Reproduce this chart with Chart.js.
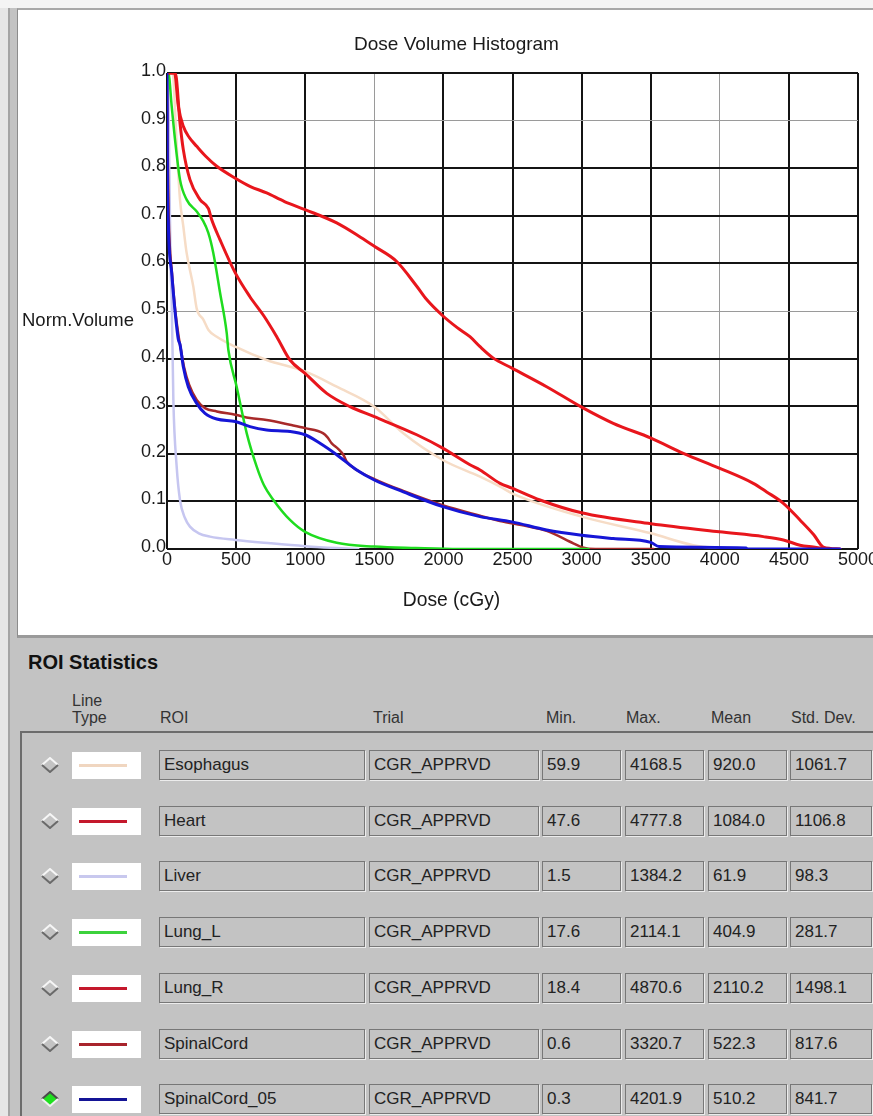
<!DOCTYPE html>
<html>
<head>
<meta charset="utf-8">
<title>Dose Volume Histogram</title>
<script src="https://cdn.jsdelivr.net/npm/chart.js@4"></script>
<style>
  html, body { margin: 0; padding: 0; }
  body {
    width: 873px; height: 1116px; overflow: hidden; position: relative;
    background: #c3c3c3;
    font-family: "Liberation Sans", Arial, sans-serif; color: #222;
  }
  .abs { position: absolute; }
  #edge { left: 0; top: 0; width: 8px; height: 1116px; background: #e6e6e6; }
  #edgeLine { left: 8px; top: 0; width: 2px; height: 1116px; background: #a4a4a4; }
  #topEdge { left: 0; top: 0; width: 873px; height: 8px; background: #f4f4f4; }
  #panel {
    left: 17px; top: 8px; width: 880px; height: 630px;
    background: #fff; border-top: 2px solid #a8a8a8; border-left: 1px solid #8c8c8c;
    border-bottom: 3px solid #9a9a9a; box-sizing: border-box;
  }
  #dvh { position: absolute; left: 0; top: 0; }
  #statsTitle { left: 28px; top: 651px; font-size: 20px; font-weight: bold; color: #111; }
  .hdr { font-size: 16px; color: #333; line-height: 17px; }
  #hdrLine { left: 20px; top: 731px; width: 853px; height: 2px; background: #6c6c6c; }
  #leftLine { left: 20px; top: 731px; width: 2px; height: 385px; background: #6c6c6c; }
  .field {
    box-sizing: border-box; height: 30px; border: 1px solid #777;
    box-shadow: 1px 1px 0 #ececec; font-size: 17px; color: #222;
    line-height: 28px; padding-left: 4px; white-space: nowrap; overflow: hidden;
  }
  .swatch { box-sizing: border-box; background: #fff; width: 69px; height: 27px; }
  .swatch div { position: absolute; left: 7px; top: 12px; width: 48px; height: 3px; }
</style>
</head>
<body>
<div id="edge" class="abs"></div>
<div id="edgeLine" class="abs"></div>
<div id="topEdge" class="abs"></div>
<div id="panel" class="abs"><canvas id="dvh" width="876" height="626"></canvas></div>
<div id="statsTitle" class="abs">ROI Statistics</div>
<div class="abs hdr" style="left:72px; top:692px;">Line<br>Type</div>
<div class="abs hdr" style="left:160px; top:709px;">ROI</div>
<div class="abs hdr" style="left:373px; top:709px;">Trial</div>
<div class="abs hdr" style="left:546px; top:709px;">Min.</div>
<div class="abs hdr" style="left:626px; top:709px;">Max.</div>
<div class="abs hdr" style="left:711px; top:709px;">Mean</div>
<div class="abs hdr" style="left:791px; top:709px;">Std. Dev.</div>
<div id="hdrLine" class="abs"></div>
<div id="leftLine" class="abs"></div>
<div id="rows"></div>

<script>
// ---- data ----
const chartTitle = 'Dose Volume Histogram';
const xTitle = 'Dose (cGy)';
const yTitle = 'Norm.Volume';
const doseTicks = [0, 500, 1000, 1500, 2000, 2500, 3000, 3500, 4000, 4500, 5000];
const volumeTicks = [0, 0.1, 0.2, 0.3, 0.4, 0.5, 0.6, 0.7, 0.8, 0.9, 1.0];

const roiNames = ['Esophagus', 'Heart', 'Liver', 'Lung_L', 'Lung_R', 'SpinalCord', 'SpinalCord_05'];
const trialNames = ['CGR_APPRVD', 'CGR_APPRVD', 'CGR_APPRVD', 'CGR_APPRVD', 'CGR_APPRVD', 'CGR_APPRVD', 'CGR_APPRVD'];
const minDose = [59.9, 47.6, 1.5, 17.6, 18.4, 0.6, 0.3];
const maxDose = [4168.5, 4777.8, 1384.2, 2114.1, 4870.6, 3320.7, 4201.9];
const meanDose = [920.0, 1084.0, 61.9, 404.9, 2110.2, 522.3, 510.2];
const stdDev = [1061.7, 1106.8, 98.3, 281.7, 1498.1, 817.6, 841.7];
const selectedRoi = 'SpinalCord_05';

// DVH curves: [dose cGy, normalised volume]
const esophagus = [[0,1.0],[40,1.0],[70,0.85],[94,0.734],[118,0.678],[142,0.622],[190,0.552],[215,0.505],[263,0.482],[300,0.46],[360,0.446],[494,0.425],[721,0.397],[999,0.373],[1228,0.341],[1500,0.299],[1710,0.243],[1995,0.187],[2265,0.152],[2410,0.131],[2496,0.117],[3000,0.068],[3502,0.033],[3808,0.008],[4000,0.002],[4168,0]];
const heart = [[0,1.0],[60,1.0],[94,0.895],[118,0.839],[166,0.776],[239,0.734],[300,0.715],[323,0.692],[383,0.65],[494,0.58],[600,0.53],[700,0.49],[794,0.446],[890,0.397],[999,0.369],[1156,0.327],[1324,0.299],[1500,0.278],[1807,0.24],[1995,0.212],[2192,0.177],[2265,0.166],[2410,0.138],[2496,0.128],[2699,0.103],[3000,0.076],[3502,0.053],[3996,0.036],[4315,0.026],[4460,0.019],[4580,0.008],[4677,0.004],[4780,0]];
const liver = [[0,1.0],[10,0.95],[17,0.79],[27,0.58],[34,0.524],[46,0.313],[70,0.173],[94,0.103],[130,0.065],[166,0.047],[230,0.033],[311,0.026],[494,0.019],[750,0.012],[999,0.006],[1228,0.002],[1384,0]];
const lungL = [[0,1.0],[10,1.0],[34,0.93],[58,0.86],[94,0.776],[142,0.734],[215,0.709],[260,0.69],[299,0.664],[335,0.622],[383,0.54],[432,0.454],[444,0.418],[504,0.341],[577,0.243],[649,0.173],[700,0.135],[770,0.103],[890,0.061],[999,0.036],[1228,0.013],[1500,0.005],[1800,0.002],[2114,0],[3050,0]];
const lungR = [[0,1.0],[55,1.0],[82,0.93],[118,0.888],[160,0.865],[215,0.846],[280,0.825],[360,0.804],[494,0.779],[600,0.762],[721,0.748],[850,0.73],[999,0.713],[1228,0.685],[1400,0.655],[1500,0.636],[1662,0.604],[1807,0.552],[1879,0.524],[1995,0.49],[2100,0.465],[2192,0.446],[2265,0.425],[2361,0.401],[2496,0.38],[2747,0.341],[3000,0.298],[3229,0.264],[3502,0.233],[3736,0.201],[3996,0.17],[4242,0.138],[4339,0.12],[4460,0.096],[4580,0.061],[4680,0.03],[4750,0.004],[4870,0]];
const spinalCord = [[0,1.0],[4,0.85],[12,0.7],[36,0.58],[60,0.5],[85,0.445],[100,0.42],[125,0.38],[160,0.345],[215,0.313],[275,0.296],[360,0.289],[494,0.282],[600,0.275],[721,0.271],[890,0.261],[999,0.254],[1131,0.243],[1160,0.235],[1192,0.222],[1240,0.21],[1276,0.198],[1300,0.184],[1373,0.166],[1500,0.147],[1710,0.122],[1995,0.092],[2265,0.07],[2410,0.059],[2600,0.048],[2747,0.038],[2940,0.012],[3000,0.004],[3100,0],[3520,0]];
const spinalCord05 = [[0,1.0],[2,0.825],[10,0.678],[34,0.58],[58,0.5],[82,0.44],[94,0.43],[118,0.383],[154,0.341],[215,0.306],[275,0.285],[360,0.273],[494,0.268],[600,0.257],[721,0.25],[890,0.247],[999,0.24],[1107,0.222],[1228,0.198],[1373,0.166],[1500,0.145],[1710,0.12],[1995,0.089],[2265,0.068],[2496,0.057],[2747,0.04],[3000,0.029],[3229,0.022],[3500,0.014],[3560,0.005],[4190,0.002],[4202,0],[4870,0]];

const curves = [esophagus, heart, liver, lungL, lungR, spinalCord, spinalCord05];

// ---- styles ----
const lineColors = ['#f6dcc6', '#e8161c', '#c6c6f0', '#1fdc1f', '#e8161c', '#a82a2a', '#1616d6'];
const swatchColors = ['#f0d6c0', '#c4182c', '#c8c8ee', '#3cd23c', '#c4182c', '#a8242c', '#141496'];
const lineWidths = [2.5, 3, 2.5, 2.5, 3, 2.5, 3];
const drawOrder = [4, 1, 5, 2, 1, 3, 0]; // lower is drawn on top
const FONT = '"Liberation Sans", Arial, sans-serif';

function isGrey(v, greys) {
    return greys.some(g => Math.abs(g - v) < 1e-6);
}

// axis titles sit where the original panel puts them, not centred on the plot
const axisTitles = {
    id: 'axisTitles',
    afterDraw(chart) {
        const ctx = chart.ctx;
        ctx.save();
        ctx.font = '18.5px ' + FONT;
        ctx.fillStyle = '#1a1a1a';
        ctx.textBaseline = 'alphabetic';
        ctx.textAlign = 'left';
        ctx.fillText(yTitle, 4, 316);
        ctx.font = '19.3px ' + FONT;
        ctx.textAlign = 'center';
        ctx.fillText(xTitle, 433.5, 596);
        ctx.restore();
    }
};

const datasets = roiNames.map((name, i) => ({
    label: name,
    data: curves[i].map(p => ({ x: p[0], y: p[1] })),
    borderColor: lineColors[i],
    backgroundColor: lineColors[i],
    borderWidth: lineWidths[i],
    pointRadius: 0,
    cubicInterpolationMode: 'monotone',
    borderJoinStyle: 'round',
    borderCapStyle: 'round',
    fill: false,
    order: drawOrder[i]
}));

new Chart(document.getElementById('dvh'), {
    type: 'line',
    data: { datasets },
    options: {
        responsive: false,
        devicePixelRatio: 1,
        animation: false,
        events: [],
        layout: { padding: { left: 37, right: 36, top: 0, bottom: 0 } },
        plugins: {
            legend: { display: false },
            tooltip: { enabled: false },
            title: {
                display: true,
                text: chartTitle,
                color: '#1a1a1a',
                font: { size: 19, weight: 'normal', family: FONT },
                padding: { top: 23, bottom: 17.2 }
            }
        },
        scales: {
            x: {
                type: 'linear',
                min: 0, max: 5000,
                afterBuildTicks: s => { s.ticks = doseTicks.map(v => ({ value: v })); },
                afterFit: s => { s.height = 87; s.paddingLeft = 0; s.paddingRight = 0; },
                border: { display: false },
                grid: {
                    drawTicks: false,
                    color: c => isGrey(c.tick.value, [1500, 4000]) ? '#9a9a9a' : '#141414',
                    lineWidth: c => isGrey(c.tick.value, [1500, 4000]) ? 1 : 2
                },
                ticks: {
                    padding: 0,
                    maxRotation: 0,
                    autoSkip: false,
                    color: '#1a1a1a',
                    font: { size: 18, family: FONT },
                    callback: v => String(v)
                }
            },
            y: {
                type: 'linear',
                min: 0, max: 1,
                afterBuildTicks: s => { s.ticks = volumeTicks.map(v => ({ value: v })); },
                afterFit: s => { s.width = 112; s.paddingTop = 0; s.paddingBottom = 0; },
                border: { display: false },
                grid: {
                    drawTicks: false,
                    color: c => isGrey(c.tick.value, [0.9, 0.5]) ? '#9a9a9a' : '#141414',
                    lineWidth: c => isGrey(c.tick.value, [0.9, 0.5]) ? 1 : 2
                },
                ticks: {
                    padding: 1,
                    labelOffset: -2,
                    autoSkip: false,
                    color: '#1a1a1a',
                    font: { size: 18, family: FONT },
                    callback: v => v.toFixed(1)
                }
            }
        }
    },
    plugins: [axisTitles]
});

// ---- ROI statistics table ----
function diamond(selected) {
    const fill = selected ? '#1fe01f' : '#c3c3c3';
    const hi = selected ? '#4a4a4a' : '#f6f6f6';
    const lo = selected ? '#f0f0f0' : '#6a6a6a';
    return '<svg width="18" height="16" viewBox="0 0 18 16">' +
        '<polygon points="9,1 17,8 9,15 1,8" fill="' + fill + '"/>' +
        '<polyline points="1,8 9,1 17,8" fill="none" stroke="' + hi + '" stroke-width="2"/>' +
        '<polyline points="1,8 9,15 17,8" fill="none" stroke="' + lo + '" stroke-width="2"/>' +
        '</svg>';
}

const rowsEl = document.getElementById('rows');
const fieldCols = [
    { left: 159, width: 206 },
    { left: 369, width: 170 },
    { left: 542, width: 79 },
    { left: 625, width: 79 },
    { left: 708, width: 79 },
    { left: 790, width: 82 }
];

roiNames.forEach((name, i) => {
    const top = Math.round(750 + i * 55.7);
    const values = [name, trialNames[i], minDose[i].toFixed(1), maxDose[i].toFixed(1),
                    meanDose[i].toFixed(1), stdDev[i].toFixed(1)];
    let html = '<div class="abs" style="left:41px; top:' + (top + 7) + 'px;">' + diamond(name === selectedRoi) + '</div>';
    html += '<div class="abs swatch" style="left:72px; top:' + (top + 2) + 'px;">' +
            '<div style="background:' + swatchColors[i] + ';"></div></div>';
    values.forEach((v, j) => {
        html += '<div class="abs field" style="left:' + fieldCols[j].left + 'px; top:' + top +
                'px; width:' + fieldCols[j].width + 'px;">' + v + '</div>';
    });
    rowsEl.insertAdjacentHTML('beforeend', html);
});
</script>
</body>
</html>
